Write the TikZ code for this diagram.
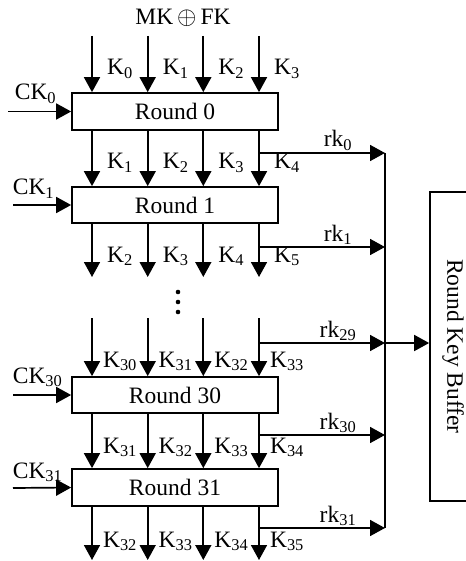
\documentclass[tikz,border=0pt]{standalone}
\usepackage{fontspec}
\setmainfont{Liberation Serif}
\usetikzlibrary{arrows.meta}
\begin{document}
\begin{tikzpicture}[x=1pt,y=-1pt,line width=1.7pt,
  arr/.style={-{Triangle[length=15pt,width=16pt]}},
  txt/.style={font=\fontsize{23.5}{27}\selectfont,inner sep=0pt},
  klbl/.style={txt,anchor=base},
  rkbox/.style={draw,line width=1.7pt,minimum width=206pt,minimum height=37pt,inner sep=0pt,font=\fontsize{23.5}{27}\selectfont}]
\useasboundingbox (0,0) rectangle (465,561);

% key-word columns
\coordinate (c1) at (92,0);
\coordinate (c2) at (147.7,0);
\coordinate (c3) at (203.3,0);
\coordinate (c4) at (259,0);

% round function blocks
\node[rkbox] (r0)  at (175,111.5) {Round 0};
\node[rkbox,minimum height=36pt] (r1)  at (175,205) {Round 1};
\node[rkbox,minimum height=36pt] (r30) at (175,395) {Round 30};
\node[rkbox] (r31) at (175,487.5) {Round 31};

% input key
\node[txt,anchor=base] (mk) at (183,25) {MK\,$\oplus$\,FK};

% column arrows and key labels
\foreach \i in {1,...,4}{
  \coordinate (a\i) at (c\i |- 0,36);
  \coordinate (e\i) at (c\i |- 0,277);
  \coordinate (d\i) at (c\i |- 0,318);
  \coordinate (f\i) at (c\i |- 0,560);
  \draw[arr] (a\i) -- (r0.north -| c\i);
  \draw[arr] (r0.south -| c\i) -- (r1.north -| c\i);
  \draw[arr] (r1.south -| c\i) -- (e\i);
  \draw[arr] (d\i) -- (r30.north -| c\i);
  \draw[arr] (r30.south -| c\i) -- (r31.north -| c\i);
  \draw[arr] (r31.south -| c\i) -- (f\i);
}
\foreach \i/\a/\b/\c/\d/\e/\f in {1/0/1/2/30/31/32,2/1/2/3/31/32/33,3/2/3/4/32/33/34,4/3/4/5/33/34/35}{
  \node[klbl] (ka\i) at ([xshift=28pt]c\i |- 0,75)  {K\textsubscript{\a}};
  \node[klbl] (kb\i) at ([xshift=28pt]c\i |- 0,169) {K\textsubscript{\b}};
  \node[klbl] (kc\i) at ([xshift=28pt]c\i |- 0,262) {K\textsubscript{\c}};
  \node[klbl] (kd\i) at ([xshift=28pt]c\i |- 0,367) {K\textsubscript{\d}};
  \node[klbl] (ke\i) at ([xshift=28pt]c\i |- 0,453) {K\textsubscript{\e}};
  \node[klbl] (kf\i) at ([xshift=28pt]c\i |- 0,547) {K\textsubscript{\f}};
}

% omitted rounds
\foreach \y/\n in {292/1,302/2,312/3}
  \fill (178,\y) circle[radius=2.3pt] coordinate (dot\n);

% constant keys
\coordinate (ck0s) at (8,111.5);
\coordinate (ck1s) at (13,205);
\coordinate (ck30s) at (13,395);
\coordinate (ck31s) at (13,488);
\draw[arr] (ck0s) -- (r0.west);
\draw[arr] (ck1s) -- (r1.west);
\draw[arr] (ck30s) -- (r30.west);
\draw[arr] (ck31s) -- (r31.west);
\node[txt,anchor=base west] (ck0)  at (14,100) {CK\textsubscript{0}};
\node[txt,anchor=base west] (ck1)  at (12,195) {CK\textsubscript{1}};
\node[txt,anchor=base west] (ck30) at (12,383) {CK\textsubscript{30}};
\node[txt,anchor=base west] (ck31) at (12,478) {CK\textsubscript{31}};

% round key outputs
\foreach \n/\y in {0/153,1/247,29/343,30/435,31/528}{
  \coordinate (b\n) at (c4 |- 0,\y);
  \coordinate (t\n) at (385,\y);
  \draw[arr] (b\n) -- (t\n);
  \node[txt,anchor=base] (rk\n) at (338,\y-6) {rk\textsubscript{\n}};
}
\draw (t0) -- (t31);

% round key buffer
\node[draw,line width=1.7pt,rotate=-90,minimum width=309pt,minimum height=46pt,inner sep=0pt,font=\fontsize{23.5}{27}\selectfont] (buf) at (453,346.5) {Round Key Buffer};
\draw[arr] (t29) -- (t29 -| buf.south);
\end{tikzpicture}
\end{document}
